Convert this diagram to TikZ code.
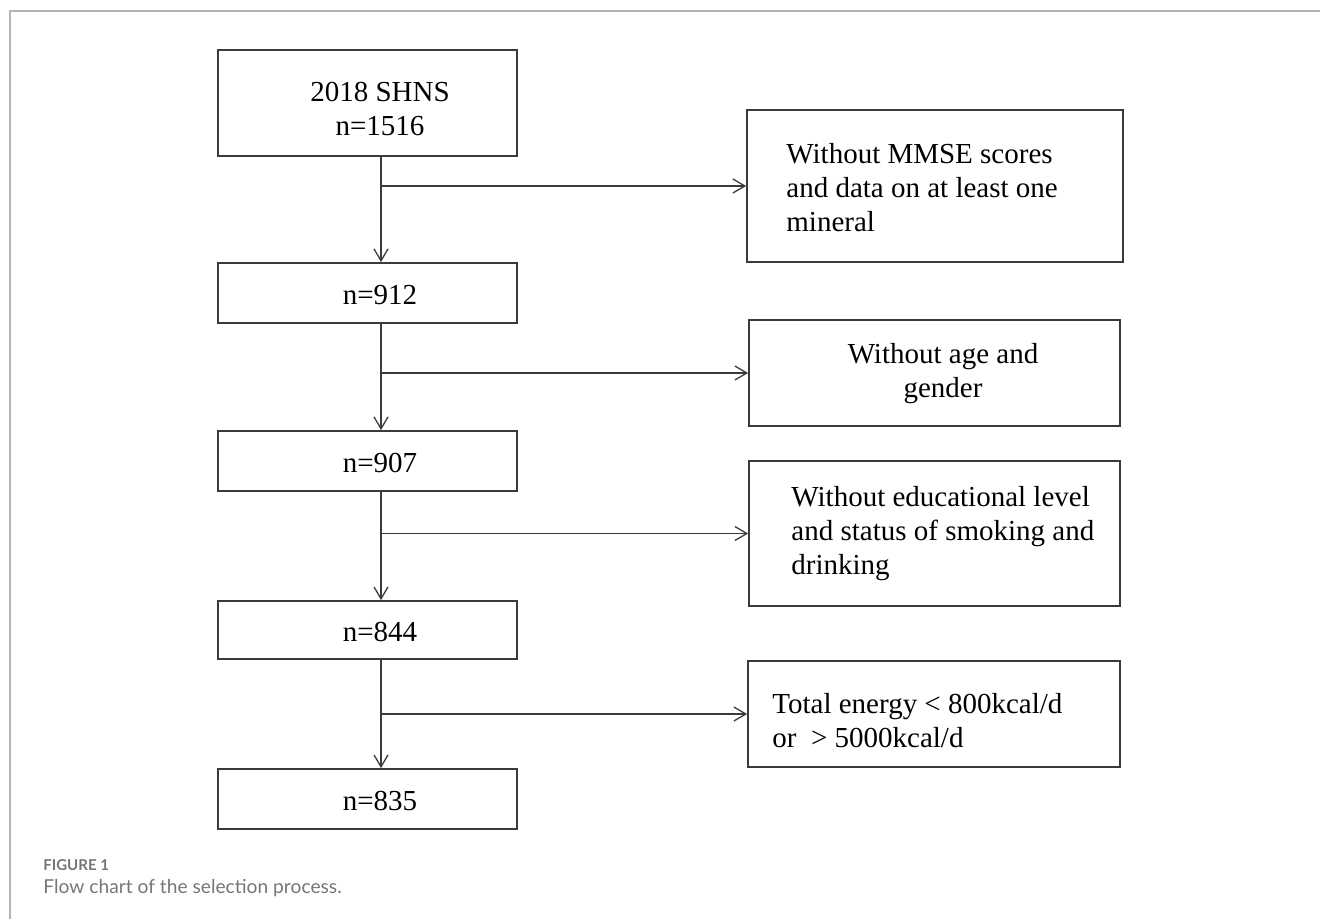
\documentclass[tikz,border=0pt]{standalone}
\usepackage{fontspec}
\setmainfont{Liberation Serif}
\newfontfamily\capfont{Lato}
\usetikzlibrary{arrows.meta}
\definecolor{boxline}{HTML}{3A3A3A}
\definecolor{framegray}{HTML}{B4B4B4}
\definecolor{capgray}{HTML}{767676}
\tikzset{
  box/.style={draw=boxline, line width=0.85pt, inner sep=0pt, anchor=center},
  txt/.style={font=\fontsize{14.5}{17}\selectfont, inner sep=0pt, text=black},
  conn/.style={draw=boxline, line width=0.65pt, -{Straight Barb[length=6pt,width=7pt,line width=0.65pt]}},
}
\begin{document}
\begin{tikzpicture}[x=0.5pt,y=-0.5pt]
\useasboundingbox (0,0) rectangle (1320,919);
% outer frame
\draw[framegray, line width=0.6pt] (10,919) -- (10,11) -- (1320,11);
% left column boxes
\node[box, minimum width=149.5pt, minimum height=53pt] (b1) at (367.5,103) {};
\node[box, minimum width=149.5pt, minimum height=30pt] (b2) at (367.5,293) {};
\node[box, minimum width=149.5pt, minimum height=30pt] (b3) at (367.5,461) {};
\node[box, minimum width=149.5pt, minimum height=29pt] (b4) at (367.5,630) {};
\node[box, minimum width=149.5pt, minimum height=30pt] (b5) at (367.5,799) {};
\node[txt, align=center] (t1) at (380,109) {2018 SHNS\\n=1516};
\node[txt] (t2) at (380,295) {n=912};
\node[txt] (t3) at (380,463) {n=907};
\node[txt] (t4) at (380,632) {n=844};
\node[txt] (t5) at (380,801) {n=835};
% right column boxes
\node[box, minimum width=188pt, minimum height=76pt] (r1) at (935,186) {};
\node[box, minimum width=185.5pt, minimum height=53pt] (r2) at (934.5,373) {};
\node[box, minimum width=185.5pt, minimum height=72.5pt] (r3) at (934.5,533.5) {};
\node[box, minimum width=186pt, minimum height=53pt] (r4) at (934,714) {};
\node[txt, align=left, anchor=west] (s1) at (786,188) {Without MMSE scores\\and data on at least one\\mineral};
\node[txt, align=center] (s2) at (943,374) {Without age and\\gender};
\node[txt, align=left, anchor=west] (s3) at (791,534) {Without educational level\\and status of smoking and\\drinking};
\node[txt, align=left, anchor=west] (s4) at (772,721) {Total energy < 800kcal/d\\or\ \ > 5000kcal/d};
% connectors
\coordinate (vx) at (381,0);
\draw[conn] (b1.south -| vx) -- (b2.north -| vx);
\draw[conn] (b2.south -| vx) -- (b3.north -| vx);
\draw[conn] (b3.south -| vx) -- (b4.north -| vx);
\draw[conn] (b4.south -| vx) -- (b5.north -| vx);
\draw[conn] (vx |- r1.west) -- (r1.west);
\draw[conn] (vx |- r2.west) -- (r2.west);
\draw[conn] (vx |- r3.west) -- (r3.west);
\draw[conn] (vx |- r4.west) -- (r4.west);
% caption
\node[anchor=west, inner sep=0pt, text=capgray, font=\capfont\bfseries\fontsize{7.5}{9}\selectfont] (fig) at (43,865) {FIGURE 1};
\node[anchor=west, inner sep=0pt, text=capgray, font=\capfont\fontsize{9.6}{11}\selectfont] (cap) at (43,888) {Flow chart of the selection process.};
\end{tikzpicture}
\end{document}
